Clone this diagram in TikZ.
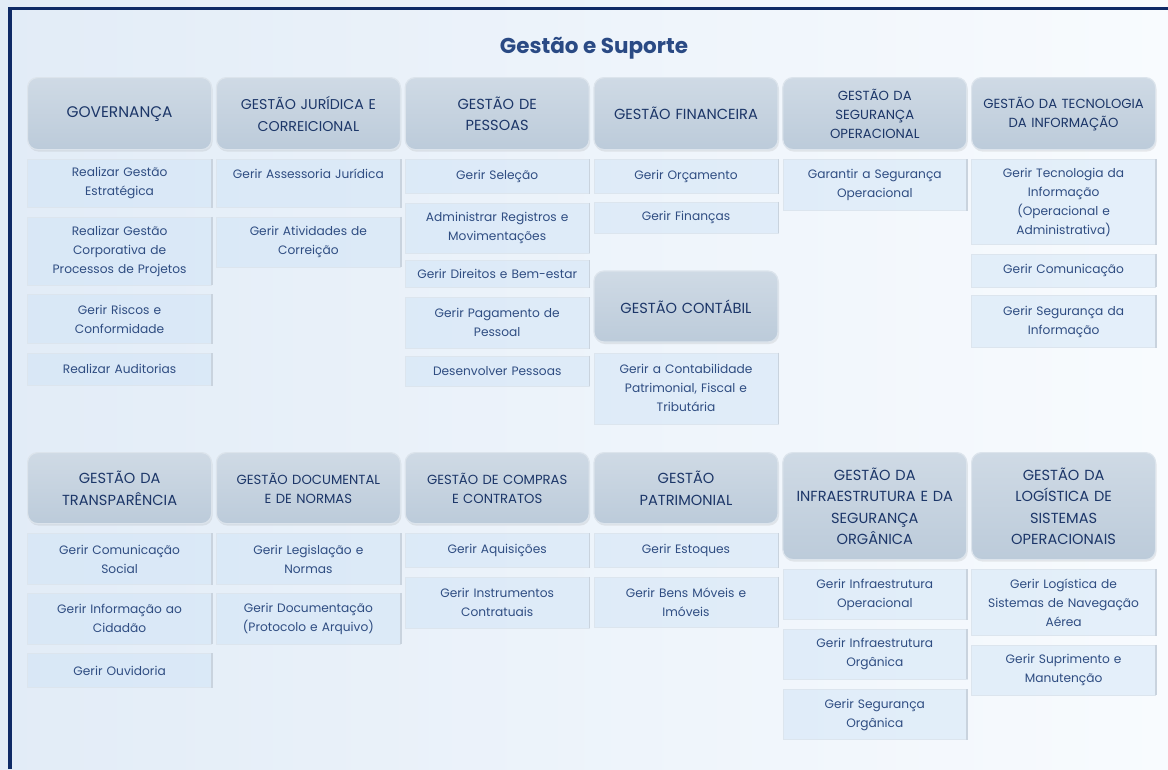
\documentclass[tikz,border=0pt]{standalone}
\usepackage{fontspec}
\setmainfont{Poppins}
\usepackage{xcolor}
\usepackage{tikz}
\usetikzlibrary{positioning,shadows}

\definecolor{navy}{HTML}{0E2A66}
\definecolor{bgleft}{HTML}{E2ECF7}
\definecolor{bgright}{HTML}{F8FBFE}
\definecolor{hdtop}{HTML}{CFDAE5}
\definecolor{hdbot}{HTML}{BCCBDA}
\definecolor{hdline}{HTML}{DCE4EC}
\definecolor{hdtext}{HTML}{1C3668}
\definecolor{itfill}{HTML}{CDE2F6}
\definecolor{itline}{HTML}{DCE5EE}
\definecolor{itshade}{HTML}{C9D3DE}
\definecolor{ittext}{HTML}{2F4D82}
\definecolor{ttltext}{HTML}{2A4A84}

\newcommand{\hdfont}{\fontsize{14.6}{21.5}\selectfont}
\newcommand{\hdsmall}{\fontsize{13.2}{19}\selectfont}
\newcommand{\itfont}{\fontsize{12.2}{19}\selectfont}

\begin{document}
\begin{tikzpicture}[x=1pt, y=-1pt]

\tikzstyle{hdr}=[rectangle, rounded corners=10pt, top color=hdtop, bottom color=hdbot, draw=hdline, line width=1.2pt, minimum width=184pt, text width=176pt, inner xsep=4pt, align=center, text=hdtext, font=\hdfont, drop shadow={opacity=0.15, shadow xshift=1pt, shadow yshift=-2pt}]
\tikzstyle{proc}=[rectangle, fill=itfill, fill opacity=0.45, text opacity=1, draw=itline, draw opacity=1, line width=0.6pt, minimum width=184pt, text width=176pt, inner xsep=4pt, inner ysep=3pt, align=center, text=ittext, font=\itfont, append after command={(\tikzlastnode.north east) edge[draw=itshade, line width=1.6pt] (\tikzlastnode.south east)}]
\tikzstyle{every node}=[node distance=9pt]

% background and frame %
\useasboundingbox (0,0) rectangle (1168,769);
\shade[left color=bgleft, right color=bgright] (0,0) rectangle (1168,769);
\draw[navy, line width=3.5pt] (10,769) -- (10,8.5) -- (1168,8.5);

\node[font=\fontsize{21.5}{24}\selectfont\bfseries, text=ttltext, anchor=base] (ttl) at (594,53) {Gestão e Suporte};

% top row headers %
\node[hdr, minimum height=72pt, anchor=north west, font=\fontsize{15.4}{22}\selectfont] (gov) at (27,77) {GOVERNANÇA};
\node[hdr, minimum height=72pt, right=3.6pt of gov, font=\fontsize{14.2}{22}\selectfont] (jur) {GESTÃO JURÍDICA E\\CORREICIONAL};
\node[hdr, minimum height=72pt, right=3.6pt of jur] (pes) {GESTÃO DE\\PESSOAS};
\node[hdr, minimum height=72pt, right=3.6pt of pes] (fin) {GESTÃO FINANCEIRA};
\node[hdr, minimum height=72pt, right=3.6pt of fin, font=\hdsmall] (seg) {GESTÃO DA\\SEGURANÇA\\OPERACIONAL};
\node[hdr, minimum height=72pt, right=3.6pt of seg, font=\hdsmall] (tec) {GESTÃO DA TECNOLOGIA\\DA INFORMAÇÃO};

% top row processes %
\node[proc, minimum height=48pt, below=of gov] (g1) {Realizar Gestão\\Estratégica};
\node[proc, minimum height=68pt, below=of g1] (g2) {Realizar Gestão\\Corporativa de\\Processos de Projetos};
\node[proc, minimum height=49pt, below=of g2] (g3) {Gerir Riscos e\\Conformidade};
\node[proc, minimum height=32pt, below=of g3] (g4) {Realizar Auditorias};

\node[proc, minimum height=48pt, below=of jur] (j1) {Gerir Assessoria Jurídica\\~};
\node[proc, minimum height=50pt, below=of j1] (j2) {Gerir Atividades de\\Correição};

\node[proc, minimum height=34pt, below=of pes] (p1) {Gerir Seleção};
\node[proc, minimum height=50pt, below=of p1] (p2) {Administrar Registros e\\Movimentações};
\node[proc, minimum height=27pt, below=7pt of p2] (p3) {Gerir Direitos e Bem-estar};
\node[proc, minimum height=51pt, below=of p3] (p4) {Gerir Pagamento de\\Pessoal};
\node[proc, minimum height=30pt, below=7pt of p4] (p5) {Desenvolver Pessoas};

\node[proc, minimum height=34pt, below=of fin] (f1) {Gerir Orçamento};
\node[proc, minimum height=31pt, below=8pt of f1] (f2) {Gerir Finanças};
\node[hdr, minimum height=71pt, below=37pt of f2] (cont) {GESTÃO CONTÁBIL};
\node[proc, minimum height=71pt, below=10pt of cont] (c1) {Gerir a Contabilidade\\Patrimonial, Fiscal e\\Tributária};

\node[proc, minimum height=51pt, below=of seg] (s1) {Garantir a Segurança\\Operacional};

\node[proc, minimum height=85pt, below=of tec] (t1) {Gerir Tecnologia da\\Informação\\(Operacional e\\Administrativa)};
\node[proc, minimum height=33pt, below=of t1] (t2) {Gerir Comunicação};
\node[proc, minimum height=52pt, below=8pt of t2] (t3) {Gerir Segurança da\\Informação};

% bottom row headers %
\node[hdr, minimum height=71pt, anchor=north west] (trans) at (27,452) {GESTÃO DA\\TRANSPARÊNCIA};
\node[hdr, minimum height=71pt, right=3.6pt of trans.north east, anchor=north west, font=\hdsmall] (doc) {GESTÃO DOCUMENTAL\\E DE NORMAS};
\node[hdr, minimum height=71pt, right=3.6pt of doc.north east, anchor=north west, font=\hdsmall] (comp) {GESTÃO DE COMPRAS\\E CONTRATOS};
\node[hdr, minimum height=71pt, right=3.6pt of comp.north east, anchor=north west] (pat) {GESTÃO\\PATRIMONIAL};
\node[hdr, minimum height=107pt, right=3.6pt of pat.north east, anchor=north west] (infra) {GESTÃO DA\\INFRAESTRUTURA E DA\\SEGURANÇA\\ORGÂNICA};
\node[hdr, minimum height=107pt, right=3.6pt of infra.north east, anchor=north west] (log) {GESTÃO DA\\LOGÍSTICA DE\\SISTEMAS\\OPERACIONAIS};

% bottom row processes %
\node[proc, minimum height=51pt, below=of trans] (tr1) {Gerir Comunicação\\Social};
\node[proc, minimum height=51pt, below=8pt of tr1] (tr2) {Gerir Informação ao\\Cidadão};
\node[proc, minimum height=34pt, below=of tr2] (tr3) {Gerir Ouvidoria};

\node[proc, minimum height=51pt, below=of doc] (d1) {Gerir Legislação e\\Normas};
\node[proc, minimum height=51pt, below=8pt of d1] (d2) {Gerir Documentação\\(Protocolo e Arquivo)};

\node[proc, minimum height=34pt, below=of comp] (cc1) {Gerir Aquisições};
\node[proc, minimum height=51pt, below=of cc1] (cc2) {Gerir Instrumentos\\Contratuais};

\node[proc, minimum height=34pt, below=of pat] (pt1) {Gerir Estoques};
\node[proc, minimum height=50pt, below=of pt1] (pt2) {Gerir Bens Móveis e\\Imóveis};

\node[proc, minimum height=50pt, below=of infra] (i1) {Gerir Infraestrutura\\Operacional};
\node[proc, minimum height=50pt, below=of i1] (i2) {Gerir Infraestrutura\\Orgânica};
\node[proc, minimum height=50pt, below=10pt of i2] (i3) {Gerir Segurança\\Orgânica};

\node[proc, minimum height=66pt, below=of log] (l1) {Gerir Logística de\\Sistemas de Navegação\\Aérea};
\node[proc, minimum height=50pt, below=of l1] (l2) {Gerir Suprimento e\\Manutenção};

\end{tikzpicture}
\end{document}
